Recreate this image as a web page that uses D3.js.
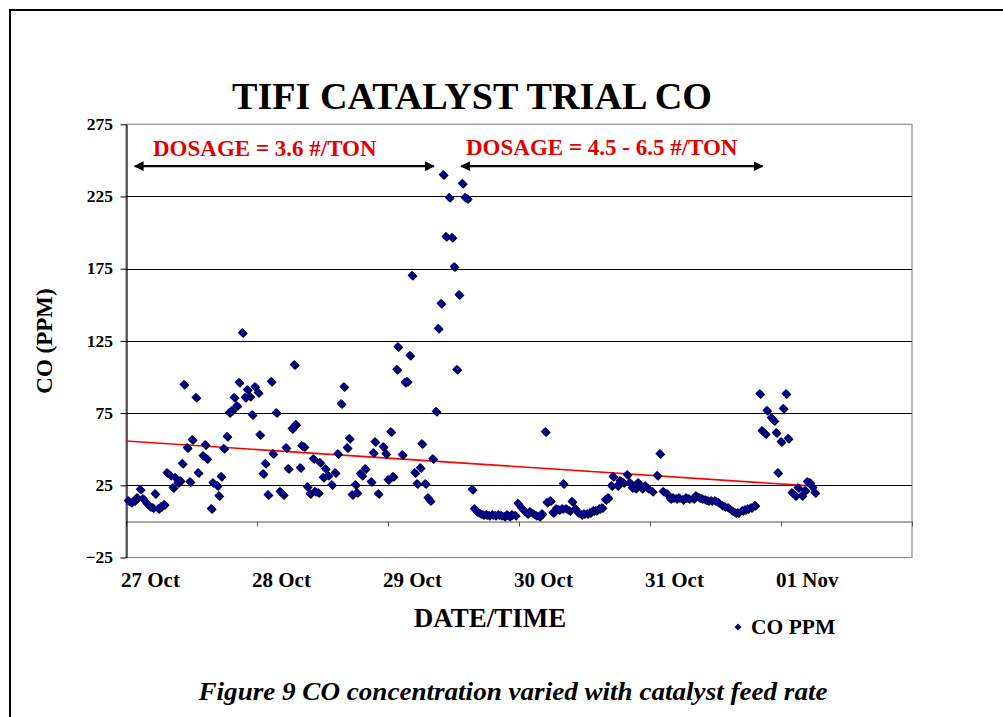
<!DOCTYPE html>
<html><head><meta charset="utf-8">
<script src="https://cdn.jsdelivr.net/npm/d3@7"></script>
<style>
body{margin:0;background:#fff;}
svg{display:block;}
text{font-family:"Liberation Serif","Times New Roman",serif;font-weight:bold;fill:#000;}
</style>
</head><body>
<svg id="c" width="1003" height="717"></svg>
<script>
// hours since 27 Oct 00:00
const hours = [0.4,0.9,1.5,2.0,2.6,3.1,3.8,4.4,4.9,5.3,5.9,6.4,7.0,7.5,8.1,8.6,9.0,9.5,9.9,10.3,
10.6,11.2,11.7,12.1,12.8,13.2,14.1,14.5,14.8,15.6,15.9,16.7,17.0,17.4,17.9,18.5,18.9,19.4,19.8,20.3,
20.7,21.3,21.8,22.2,22.7,23.1,23.6,24.2,24.5,25.1,25.5,26.0,26.6,26.9,27.5,28.2,28.8,29.3,29.7,30.4,
30.8,31.1,31.9,32.2,32.6,33.2,33.7,34.3,34.6,35.2,35.5,36.1,36.5,37.0,37.7,38.3,38.8,39.4,39.9,40.5,
40.9,41.4,42.0,42.3,42.9,43.2,43.8,44.9,45.3,45.6,46.2,47.1,47.6,48.0,48.5,48.9,49.6,49.8,50.6,51.1,
51.5,52.0,52.4,52.9,53.3,53.9,54.2,54.8,55.3,55.7,56.2,56.8,57.2,57.7,58.1,58.6,59.2,59.7,60.1,60.6,
61.0,61.6,62.1,62.5,63.4,63.8,64.3,64.9,65.4,66.0,66.5,67.1,67.6,68.2,68.7,69.3,69.8,70.2,70.7,71.3,
71.8,72.4,72.9,73.5,74.0,74.6,75.1,75.7,76.2,76.8,77.1,77.7,78.2,78.8,79.3,79.9,80.1,80.6,81.2,81.7,
82.3,82.8,83.4,83.9,84.5,85.0,85.6,86.1,86.7,87.2,87.8,88.3,88.9,89.2,90.0,90.5,91.1,91.8,92.3,92.7,
93.3,93.8,94.5,95.1,95.6,96.4,97.3,97.8,98.4,99.1,99.7,100.2,100.8,101.3,102.0,102.6,103.1,103.9,104.4,105.0,
105.5,106.1,106.6,107.2,107.9,108.5,109.2,109.7,110.3,111.0,111.6,112.1,112.9,113.4,113.9,114.5,115.2,116.1,116.5,117.1,
117.4,118.2,118.7,119.1,119.4,120.0,120.4,120.9,121.3,122.0,122.6,123.1,123.8,124.4,124.8,125.3,125.7,126.2];
const ppm = [14.5,13.2,14.5,16.6,22.2,15.9,12.5,10.4,9.7,19.4,9.0,10.4,11.8,33.9,31.9,23.5,30.5,27.0,28.4,40.2,
94.9,51.2,27.7,56.8,85.9,33.9,45.7,53.3,43.6,9.0,27.0,24.9,18.0,31.2,50.6,58.9,75.5,76.9,85.9,80.3,
96.3,130.9,85.9,91.4,86.6,74.1,93.5,89.3,60.2,33.2,40.2,18.7,97.0,47.1,75.5,20.8,18.7,51.2,36.7,64.4,
108.7,67.2,37.4,52.6,51.9,24.2,19.4,43.6,20.8,20.1,40.9,30.5,36.7,31.9,25.6,33.9,47.1,81.7,93.5,51.2,
57.5,18.7,25.6,20.1,33.2,31.9,36.7,27.7,47.8,55.4,19.4,51.9,47.1,29.1,62.3,31.2,105.3,121.2,46.4,96.3,
97.0,115.0,170.4,33.9,26.3,37.4,54.0,26.3,16.6,14.5,43.6,76.2,133.7,151.0,240.3,197.4,224.4,196.7,176.6,105.3,
157.2,234.1,224.4,223.7,22.2,9.0,6.9,5.5,4.8,4.8,4.2,4.8,4.2,4.8,4.2,3.5,4.8,3.5,4.8,4.2,
12.5,9.7,7.6,5.5,6.9,5.5,4.2,3.5,5.5,62.3,13.2,14.5,6.2,9.0,8.3,9.0,26.3,9.0,7.6,13.9,
9.0,6.2,4.8,5.5,5.5,6.2,7.6,7.6,9.0,9.7,15.2,16.6,24.9,31.2,24.9,28.4,27.0,32.5,27.0,23.5,
22.9,27.0,22.9,24.9,22.9,20.8,31.9,47.1,20.8,19.4,15.9,16.6,15.9,16.6,15.2,16.6,15.9,15.9,18.0,16.6,
15.9,15.2,14.5,14.5,14.5,13.2,11.1,10.4,9.7,7.6,6.2,6.2,7.6,8.3,9.0,9.7,11.1,88.6,63.0,60.9,
76.9,72.0,69.9,61.6,33.9,55.4,78.3,88.6,57.5,20.1,18.0,23.5,18.0,21.5,27.7,27.0,24.2,20.1];
const dayLabels = ["27 Oct","28 Oct","29 Oct","30 Oct","31 Oct","01 Nov"];
const yTicks = [-25,25,75,125,175,225,275];
const gridValues = [25,75,125,175,225];
const trendHours = [0,126.2];
const trendPpm = [55.7,24.4];
const arrowHours = [[1.6,56.4],[61.4,116.6]];
const arrowPpm = 246;
const dosageLabels = ["DOSAGE = 3.6 #/TON","DOSAGE = 4.5 - 6.5 #/TON"];

const start = new Date(2003,9,27);
const toDate = h => new Date(start.getTime() + h*3600e3);
const svg = d3.select("#c");

// outer frame
svg.append("rect").attr("x",10).attr("y",10).attr("width",1000).attr("height",720)
  .attr("fill","none").attr("stroke","#000").attr("stroke-width",2);

const x = d3.scaleTime().domain([start, d3.timeDay.offset(start,6)]).range([126,912]);
const y = d3.scaleLinear().domain([-25,275]).range([557.5,124.3]);

// plot border
svg.append("rect").attr("x",126).attr("y",y(275)).attr("width",912-126).attr("height",y(-25)-y(275))
  .attr("fill","none").attr("stroke","#8c8c8c").attr("stroke-width",1.2);

// gridlines
svg.append("g").selectAll("line").data(gridValues).join("line")
  .attr("x1",126).attr("x2",912).attr("y1",d=>Math.round(y(d))+0.5).attr("y2",d=>Math.round(y(d))+0.5)
  .attr("stroke","#000").attr("stroke-width",1.1);

// x axis at 0
const dayTicks = d3.timeDay.range(start, d3.timeDay.offset(start,7));
const xAxis = svg.append("g").attr("transform",`translate(0,${Math.round(y(0))+0.5})`)
  .call(d3.axisBottom(x).tickValues(dayTicks).tickSize(5).tickSizeOuter(0).tickFormat(""));
xAxis.select(".domain").attr("stroke","#555");
xAxis.selectAll(".tick line").attr("stroke","#555");

// x labels at bottom
svg.append("g").selectAll("text").data(dayLabels).join("text")
  .attr("x",(d,i)=>x(dayTicks[i])-5).attr("y",587)
  .attr("font-size",21).text(d=>d);

// y axis (ticks + line)
const yAxis = svg.append("g").attr("transform","translate(126.5,0)")
  .call(d3.axisLeft(y).tickValues(yTicks).tickSize(6).tickSizeOuter(0).tickFormat(""));
yAxis.select(".domain").attr("stroke","#000").attr("stroke-width",1.2);
yAxis.selectAll(".tick line").attr("stroke","#000");
// y tick labels
svg.append("g").selectAll("text").data(yTicks).join("text")
  .attr("x",113).attr("y",d=>y(d)).attr("dy","0.33em").attr("text-anchor","end")
  .attr("font-size",17.5).text(d=>d3.format("d")(d));

// trend line
svg.append("line")
  .attr("x1",x(toDate(trendHours[0]))).attr("y1",y(trendPpm[0]))
  .attr("x2",x(toDate(trendHours[1]))).attr("y2",y(trendPpm[1]))
  .attr("stroke","#ff0000").attr("stroke-width",1.6);

// points
const pts = hours.map((h,i)=>({t:toDate(h),v:ppm[i]}));
const diamond = "M0,-4.5L4.5,0L0,4.5L-4.5,0Z";
const g = svg.append("g");
g.selectAll("path.s").data(pts).join("path").attr("class","s")
  .attr("d",diamond).attr("fill","#000")
  .attr("transform",d=>`translate(${x(d.t)+1},${y(d.v)+1})`);
g.selectAll("path.p").data(pts).join("path").attr("class","p")
  .attr("d",diamond).attr("fill","#000080")
  .attr("transform",d=>`translate(${x(d.t)},${y(d.v)})`);

// arrows
const defs = svg.append("defs");
defs.append("marker").attr("id","ah").attr("viewBox","0 0 10 10").attr("refX",9).attr("refY",5)
  .attr("markerWidth",4.5).attr("markerHeight",4.5).attr("orient","auto-start-reverse")
  .attr("markerUnits","strokeWidth")
  .append("path").attr("d","M0,0L10,5L0,10Z").attr("fill","#000");
svg.append("g").selectAll("line").data(arrowHours).join("line")
  .attr("x1",d=>x(toDate(d[0]))).attr("x2",d=>x(toDate(d[1])))
  .attr("y1",y(arrowPpm)).attr("y2",y(arrowPpm))
  .attr("stroke","#000").attr("stroke-width",2.2)
  .attr("marker-start","url(#ah)").attr("marker-end","url(#ah)");

// dosage labels
svg.append("text").attr("x",153).attr("y",156).attr("font-size",23).style("fill","#e00000").text(dosageLabels[0]);
svg.append("text").attr("x",466).attr("y",154.5).attr("font-size",23).style("fill","#e00000").text(dosageLabels[1]);

// title
svg.append("text").attr("x",472).attr("y",109).attr("text-anchor","middle").attr("font-size",38)
  .attr("textLength",480).attr("lengthAdjust","spacingAndGlyphs")
  .text("TIFI CATALYST TRIAL CO");

// axis titles
svg.append("text").attr("transform","translate(52,341) rotate(-90)").attr("text-anchor","middle")
  .attr("font-size",23).text("CO (PPM)");
svg.append("text").attr("x",490).attr("y",627).attr("text-anchor","middle").attr("font-size",27).text("DATE/TIME");

// legend
svg.append("path").attr("d","M0,-3.5L3.5,0L0,3.5L-3.5,0Z").attr("fill","#000080").attr("transform","translate(738,627)");
svg.append("text").attr("x",751).attr("y",634).attr("font-size",21.5).text("CO PPM");

// caption
svg.append("text").attr("x",513).attr("y",700).attr("text-anchor","middle").attr("font-size",26)
  .attr("textLength",629).attr("lengthAdjust","spacingAndGlyphs")
  .style("font-style","italic").text("Figure 9 CO concentration varied with catalyst feed rate");
</script>
</body></html>
